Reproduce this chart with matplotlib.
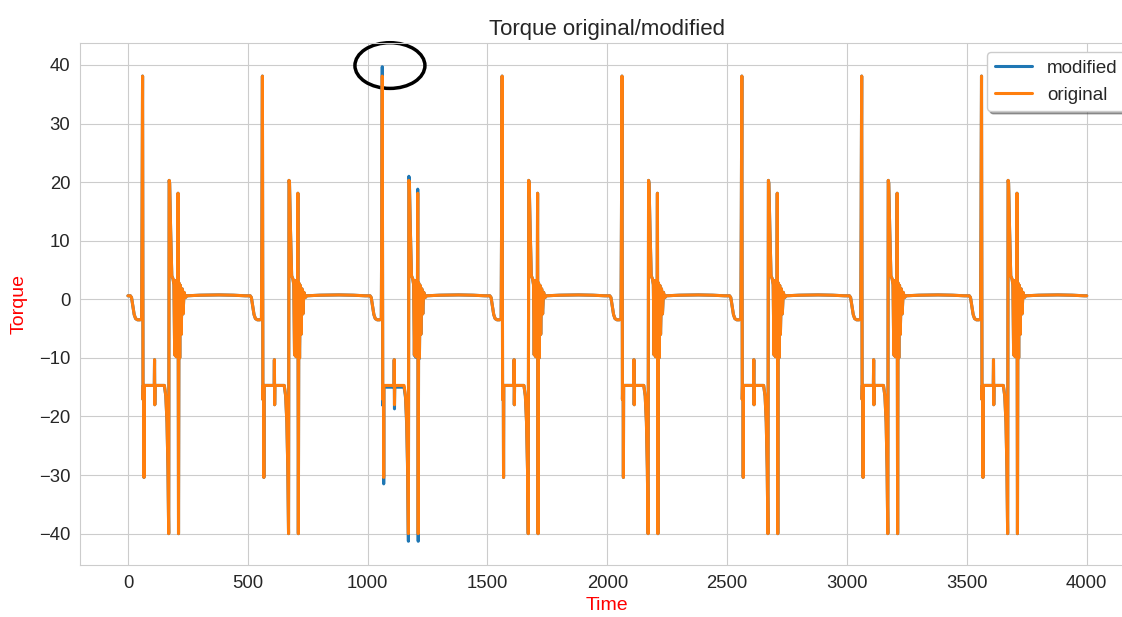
# Torque original vs modified, one cycle profile repeated every 500 steps

import numpy as np
import matplotlib
matplotlib.use("Agg")
import matplotlib.pyplot as plt
import seaborn as sns
from matplotlib.patches import Ellipse

# one cycle, times relative to cycle start
cycle_t = [0, 10, 15, 20, 26, 32, 40, 50, 57, 59,
           61, 63, 64, 66, 67, 68, 110, 111, 112, 113,
           152, 158, 163, 167, 170, 172, 174, 178, 183, 188,
           192, 195, 198, 201, 204, 207, 209, 211, 213, 216,
           219, 222, 226, 230, 234, 240, 246, 300, 380, 440,
           490]

orig_cycle = [0.6, 0.6, 0.3, -1.0, -2.6, -3.3, -3.5, -3.5, -3.4, 14.3,
              38.1, -17.1, -14.7, -14.7, -30.4, -14.7, -14.7, -10.3, -18.0, -14.7,
              -14.7, -16.5, -21.0, -29.0, -40.0, 20.3, 19.8, 12.0, 4.0, 3.5,
              2.5, -9.5, 3.2, -9.8, 3.0, -9.0, 18.1, -40.0, 2.8, -10.0,
              2.4, -6.0, 1.8, -2.5, 1.2, 0.3, 0.6, 0.7, 0.75, 0.7,
              0.6]

# modified signal differs only in the cycle starting at 1000
mod_cycle3 = [0.6, 0.6, 0.3, -1.0, -2.6, -3.3, -3.5, -3.5, -3.4, 14.6,
              39.7, -18.1, -15.0, -15.0, -31.5, -15.0, -15.0, -10.3, -18.7, -15.0,
              -15.0, -16.8, -21.5, -29.8, -41.3, 21.0, 20.5, 12.3, 4.0, 3.5,
              2.5, -9.6, 3.2, -9.9, 3.0, -9.1, 18.8, -41.3, 2.8, -10.1,
              2.4, -6.0, 1.8, -2.5, 1.2, 0.3, 0.6, 0.7, 0.75, 0.7,
              0.6]

cycle_starts = [0, 500, 1000, 1500, 2000, 2500, 3000, 3500]
modified_start = 1000
end_t, end_val = 4000, 0.6

time = []
original = []
modified = []
for s in cycle_starts:
    time += [s + t for t in cycle_t]
    original += orig_cycle
    modified += mod_cycle3 if s == modified_start else orig_cycle
time.append(end_t)
original.append(end_val)
modified.append(end_val)

sns.set_style("whitegrid")
plt.rcParams['font.family'] = ['Liberation Sans', 'DejaVu Sans']

fig = plt.figure(figsize=(11.22, 6.17), dpi=100)
ax = fig.add_axes([0.0713, 0.0843, 0.940, 0.846])

ax.plot(time, modified, color='#1f77b4', lw=2.2, label='modified')
ax.plot(time, original, color='#ff7f0e', lw=2.2, label='original')

ax.set_title("Torque original/modified", fontsize=16)
ax.set_xlabel("Time", color='red', fontsize=14)
ax.set_ylabel("Torque", color='red', fontsize=14, labelpad=8)
ax.tick_params(labelsize=13.3)
ax.set_yticks([-40, -30, -20, -10, 0, 10, 20, 30, 40])
ax.legend(loc='upper right', shadow=True, fontsize=13.5)

# hand drawn mark around the modified peak
ax.add_patch(Ellipse((1093, 39.9), 292, 7.8, fill=False, ec='black', lw=2.5, clip_on=False))

fig.savefig("out.png", dpi=100)
